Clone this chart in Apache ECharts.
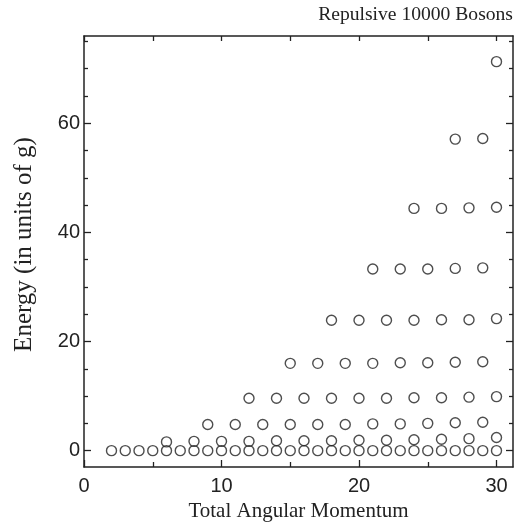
<!DOCTYPE html>
<html>
<head>
<meta charset="utf-8">
<title>Repulsive 10000 Bosons</title>
<script src="https://cdn.jsdelivr.net/npm/echarts@6/dist/echarts.min.js"></script>
<style>
  html, body { margin: 0; padding: 0; background: #fff; }
  #chart { width: 525px; height: 527px; }
</style>
</head>
<body>
<div id="chart"></div>
<script>
// energy levels, [angular momentum L, energy]
const level0 = [[2,0],[3,0],[4,0],[5,0],[6,0],[7,0],[8,0],[9,0],[10,0],[11,0],[12,0],[13,0],[14,0],[15,0],[16,0],
  [17,0],[18,0],[19,0],[20,0],[21,0],[22,0],[23,0],[24,0],[25,0],[26,0],[27,0],[28,0],[29,0],[30,0]];
const level1 = [[6,1.6],[8,1.7],[10,1.7],[12,1.7],[14,1.8],[16,1.8],[18,1.8],[20,1.9],[22,1.9],[24,2.0],[26,2.1],[28,2.2],[30,2.4]];
const level2 = [[9,4.8],[11,4.8],[13,4.8],[15,4.8],[17,4.8],[19,4.8],[21,4.9],[23,4.9],[25,5.0],[27,5.1],[29,5.2]];
const level3 = [[12,9.6],[14,9.6],[16,9.6],[18,9.6],[20,9.6],[22,9.6],[24,9.7],[26,9.7],[28,9.8],[30,9.9]];
const level4 = [[15,16.0],[17,16.0],[19,16.0],[21,16.0],[23,16.1],[25,16.1],[27,16.2],[29,16.3]];
const level5 = [[18,23.9],[20,23.9],[22,23.9],[24,23.9],[26,24.0],[28,24.0],[30,24.2]];
const level6 = [[21,33.3],[23,33.3],[25,33.3],[27,33.4],[29,33.5]];
const level7 = [[24,44.4],[26,44.4],[28,44.5],[30,44.6]];
const level8 = [[27,57.1],[29,57.2]];
const level9 = [[30,71.3]];

const xTicks = [0, 10, 20, 30];
const xMinorTicks = [5, 15, 25];
const yTicks = [0, 20, 40, 60];
const yMinorTicks = [5, 10, 15, 25, 30, 35, 45, 50, 55, 65, 70, 75];

const points = [].concat(level0, level1, level2, level3, level4, level5, level6, level7, level8, level9);

const ink = '#222';
const frame = { show: true, onZero: false, lineStyle: { color: ink, width: 1.5 } };
const noLine = { show: false, onZero: false };

// helper for the extra axes that only carry ticks
function tickAxis(pos, min, max, values, len) {
  return {
    type: 'value', gridIndex: 0, position: pos, min: min, max: max,
    axisLine: noLine,
    axisTick: { show: true, inside: true, length: len, customValues: values, lineStyle: { color: ink, width: 1.3 } },
    axisLabel: { show: false },
    splitLine: { show: false }
  };
}

const xMin = 0, xMax = 31.2, yMin = -3, yMax = 76;

const chart = echarts.init(document.getElementById('chart'));
chart.setOption({
  animation: false,
  backgroundColor: '#fff',
  title: {
    text: 'Repulsive 10000 Bosons',
    right: 7, top: 0,
    textStyle: { fontFamily: 'Liberation Serif', fontSize: 19.6, fontWeight: 'normal', color: ink }
  },
  grid: { left: 84, right: 12, top: 36, bottom: 60 },
  xAxis: [
    {
      type: 'value', position: 'bottom', min: xMin, max: xMax,
      name: 'Total Angular Momentum', nameLocation: 'middle', nameGap: 32,
      nameTextStyle: { fontFamily: 'Liberation Serif', fontSize: 21, color: ink },
      axisLine: frame,
      axisTick: { show: true, inside: true, length: 7, customValues: xTicks, lineStyle: { color: ink, width: 1.3 } },
      axisLabel: { customValues: xTicks, fontFamily: 'Liberation Sans', fontSize: 20, color: ink, margin: 9 },
      splitLine: { show: false }
    },
    tickAxis('bottom', xMin, xMax, xMinorTicks, 5),
    Object.assign(tickAxis('top', xMin, xMax, xTicks.concat(xMinorTicks), 5), { axisLine: frame })
  ],
  yAxis: [
    {
      type: 'value', position: 'left', min: yMin, max: yMax,
      name: 'Energy (in units of g)', nameLocation: 'middle', nameGap: 47,
      nameTextStyle: { fontFamily: 'Liberation Serif', fontSize: 25, color: ink, padding: [0, 0, 0, 14] },
      axisLine: frame,
      axisTick: { show: true, inside: true, length: 7, customValues: yTicks, lineStyle: { color: ink, width: 1.3 } },
      axisLabel: { customValues: yTicks, fontFamily: 'Liberation Sans', fontSize: 20, color: ink, margin: 4 },
      splitLine: { show: false }
    },
    tickAxis('left', yMin, yMax, yMinorTicks, 4),
    Object.assign(tickAxis('right', yMin, yMax, yTicks, 7), { axisLine: frame }),
    tickAxis('right', yMin, yMax, yMinorTicks, 4)
  ],
  series: [{
    type: 'scatter',
    xAxisIndex: 0, yAxisIndex: 0,
    symbol: 'circle', symbolSize: 10,
    itemStyle: { color: 'rgba(0,0,0,0)', borderColor: ink, borderWidth: 1.4 },
    data: points
  }]
});
</script>
</body>
</html>
